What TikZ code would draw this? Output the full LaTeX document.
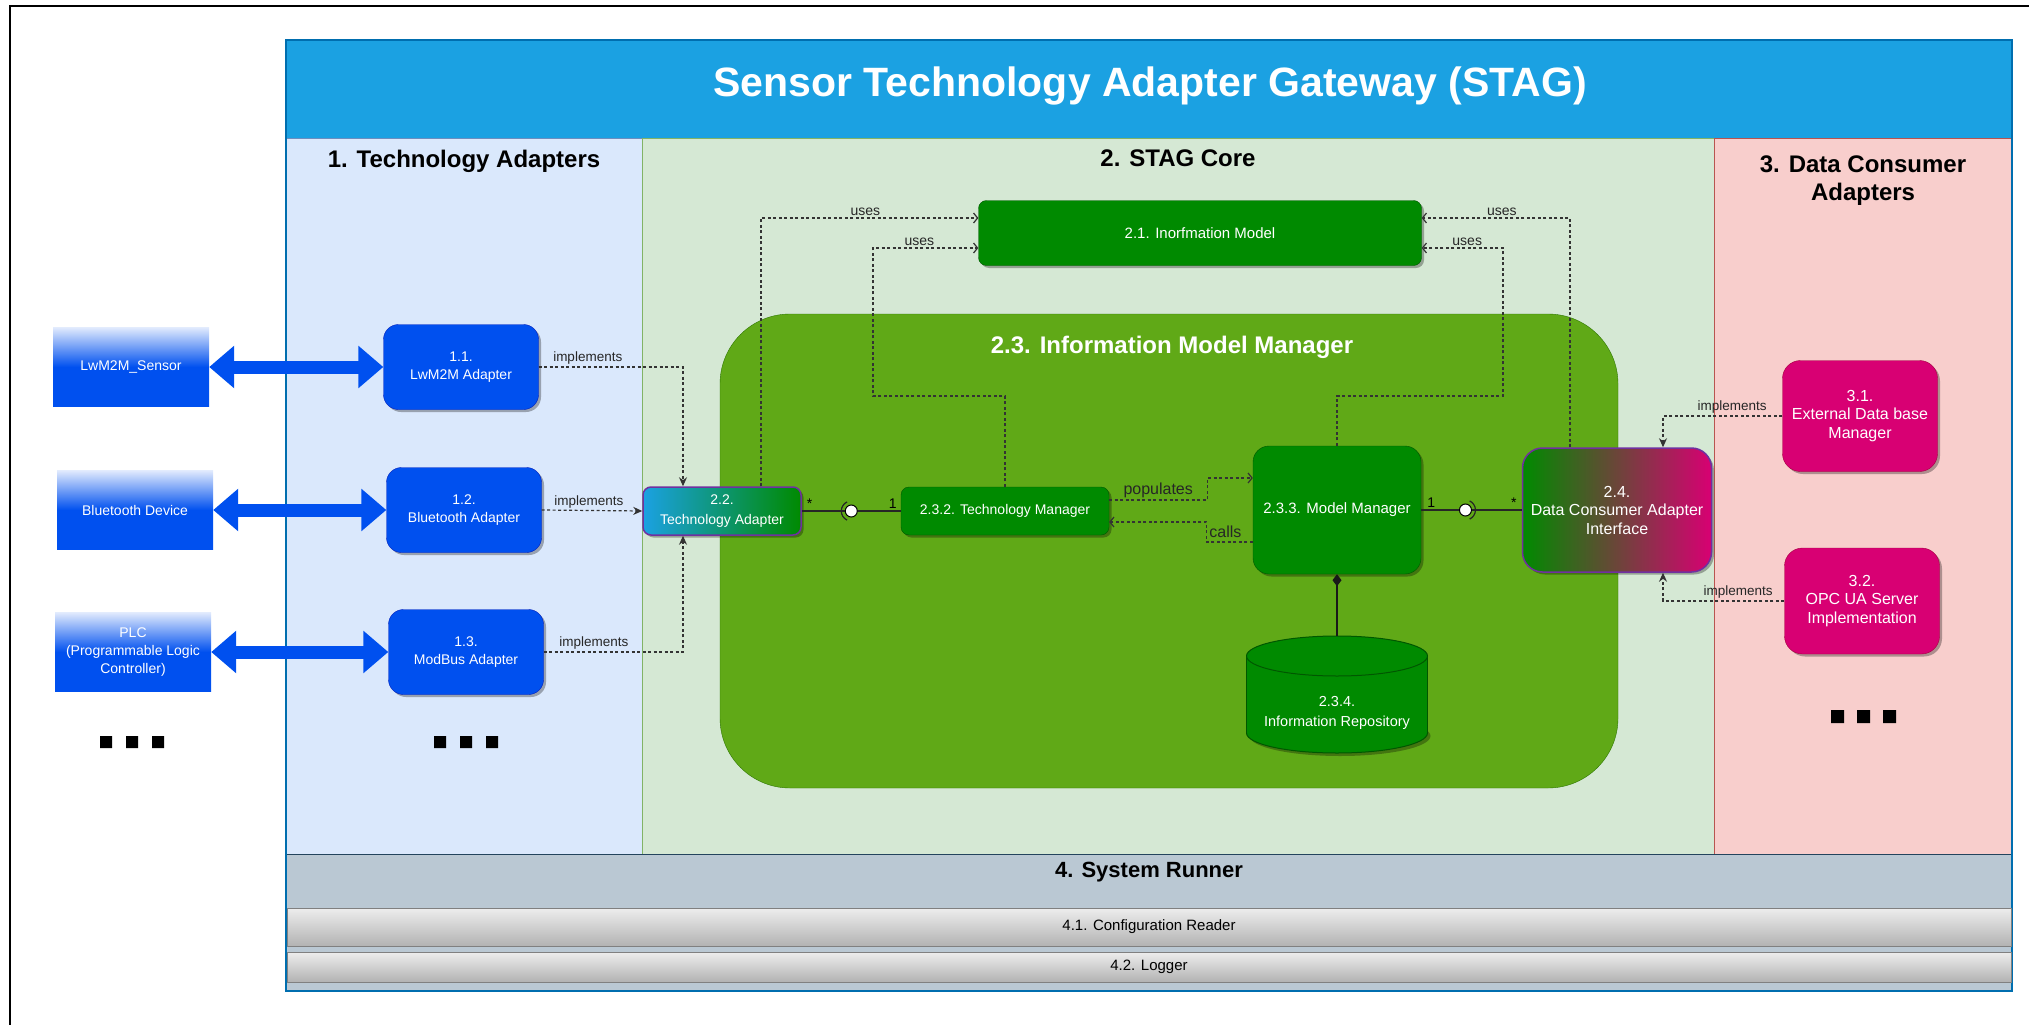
\documentclass[tikz,border=0pt]{standalone}
\usepackage{fontspec}
\setmainfont{Liberation Sans}
\usetikzlibrary{arrows.meta,shapes.geometric,shadows}

\definecolor{stagblue}{HTML}{1BA1E2}
\definecolor{stagline}{HTML}{006EAF}
\definecolor{taback}{HTML}{DAE8FC}
\definecolor{taline}{HTML}{6C8EBF}
\definecolor{coreback}{HTML}{D5E8D4}
\definecolor{coreline}{HTML}{82B366}
\definecolor{dcback}{HTML}{F8CECC}
\definecolor{dcline}{HTML}{B85450}
\definecolor{runback}{HTML}{BAC8D3}
\definecolor{runline}{HTML}{23445D}
\definecolor{adblue}{HTML}{0050EF}
\definecolor{adline}{HTML}{001DBC}
\definecolor{dkgreen}{HTML}{008A00}
\definecolor{dkgreenline}{HTML}{005700}
\definecolor{immgreen}{HTML}{60A917}
\definecolor{immline}{HTML}{2D7600}
\definecolor{dcmagenta}{HTML}{D80073}
\definecolor{dcmagentaline}{HTML}{A50040}
\definecolor{mixline}{HTML}{7030A0}

\begin{document}
\begin{tikzpicture}[x=1pt,y=-1pt,
    boxshadow/.style={drop shadow={shadow xshift=2.5pt,shadow yshift=-2.5pt,opacity=0.3,fill=black}},
    sect/.style={font=\fontsize{24}{28}\selectfont\bfseries, align=center, text=black},
    devbox/.style={top color=adblue!12!white, bottom color=adblue, middle color=adblue, text=white, align=center,
        minimum width=156pt, minimum height=79pt, font=\fontsize{14}{18}\selectfont},
    adbox/.style={draw=adline, fill=adblue, text=white, align=center, rounded corners=15pt,
        minimum width=155pt, minimum height=85pt, font=\fontsize{14}{18.5}\selectfont, boxshadow},
    greenbox/.style={draw=dkgreenline, fill=dkgreen, text=white, align=center, font=\fontsize{15}{18}\selectfont, boxshadow},
    magbox/.style={draw=dcmagentaline, fill=dcmagenta, text=white, align=center, rounded corners=18pt,
        minimum width=155pt, minimum height=111pt, font=\fontsize{16}{18.5}\selectfont, boxshadow},
    runbox/.style={draw=black!50, top color=black!7, bottom color=black!30, minimum width=1724pt,
        font=\fontsize{15}{18}\selectfont},
    blockarr/.style={draw=adblue, line width=13pt, {Triangle[length=25pt,width=41pt]}-{Triangle[length=25pt,width=41pt]}},
    impl/.style={draw=black!80, line width=1.2pt, dash pattern=on 3pt off 2.5pt, -{Stealth[length=9pt,width=8pt]}},
    usesarr/.style={draw=black!80, line width=1.2pt, dash pattern=on 3pt off 2.5pt, -{Straight Barb[length=4pt,width=10pt]}},
    lbl/.style={font=\fontsize{13.5}{16}\selectfont, text=black!85, inner sep=2pt},
    assoc/.style={draw=black!85, line width=1.5pt},
    mult/.style={font=\fontsize{14}{16}\selectfont, inner sep=2pt}]

\useasboundingbox (0,0) rectangle (2029,1025);

% frame and panels
\draw[line width=2pt] (10,1025) -- (10,6) -- (2029,6);
\fill[stagblue] (286,40) rectangle (2012,138);
\draw[taline, fill=taback] (286,138) rectangle (642,854);
\draw[coreline, fill=coreback] (642,138) rectangle (1714,854);
\draw[dcline, fill=dcback] (1714,138) rectangle (2012,854);
\draw[runline, fill=runback] (286,854) rectangle (2012,991);
\draw[immline, fill=immgreen, rounded corners=70pt] (720,314) rectangle (1618,788);
\draw[stagline, line width=2pt] (286,40) rectangle (2012,991);

\node[font=\fontsize{41}{48}\selectfont\bfseries, text=white] (stag) at (1150,86) {Sensor Technology Adapter Gateway (STAG)};
\node[sect] (h1) at (464,161) {1. Technology Adapters};
\node[sect] (h2) at (1178,158) {2. STAG Core};
\node[sect] (h3) at (1863,181) {3. Data Consumer\\Adapters};
\node[sect, text=white] (h23) at (1172,347) {2.3. Information Model Manager};
\node[sect, font=\fontsize{22}{26}\selectfont\bfseries] (h4) at (1149,872) {4. System Runner};

% devices and adapters
\node[devbox] (dev1) at (131,367) {LwM2M\_Sensor};
\node[devbox] (dev2) at (135,510) {Bluetooth Device};
\node[devbox] (dev3) at (133,652) {PLC\\(Programmable Logic\\Controller)};

\node[adbox] (ad1) at (461,367) {1.1.\\LwM2M Adapter};
\node[adbox] (ad2) at (464,510) {1.2.\\Bluetooth Adapter};
\node[adbox] (ad3) at (466,652) {1.3.\\ModBus Adapter};

\draw[blockarr] (dev1.east) -- (ad1.west);
\draw[blockarr] (dev2.east) -- (ad2.west);
\draw[blockarr] (dev3.east) -- (ad3.west);

\fill (100,736) rectangle ++(12,12) (126,736) rectangle ++(12,12) (152,736) rectangle ++(12,12);
\fill (434,736) rectangle ++(12,12) (460,736) rectangle ++(12,12) (486,736) rectangle ++(12,12);
\fill (1831,710) rectangle ++(13,13) (1857,710) rectangle ++(13,13) (1883,710) rectangle ++(13,13);

% core
\node[draw=mixline, line width=1.5pt, left color=stagblue, right color=dkgreen, text=white, align=center,
    rounded corners=8pt, minimum width=158pt, minimum height=48pt, font=\fontsize{14}{20}\selectfont, boxshadow] (ta) at (722,511) {2.2.\\Technology Adapter};
\node[greenbox, minimum width=443pt, minimum height=65pt, rounded corners=8pt] (im) at (1200,233) {2.1. Inorfmation Model};
\node[greenbox, minimum width=208pt, minimum height=48pt, rounded corners=8pt, font=\fontsize{14}{18}\selectfont] (tm) at (1005,511) {2.3.2. Technology Manager};
\node[greenbox, minimum width=168pt, minimum height=128pt, rounded corners=16pt] (mm) at (1337,510) {2.3.3. Model Manager};
\node[draw=mixline, line width=1.5pt, left color=dkgreen, right color=dcmagenta, text=white, align=center,
    rounded corners=20pt, minimum width=189pt, minimum height=124pt, font=\fontsize{16}{18.5}\selectfont, boxshadow] (dca) at (1617,510) {2.4.\\Data Consumer Adapter\\Interface};

% repository drum
\fill[black, opacity=0.3] (1340,736) ellipse (90.5 and 20);
\draw[dkgreenline, line width=1pt, fill=dkgreen] (1337,733) ellipse (90.5 and 20);
\fill[dkgreen] (1246.5,656) rectangle (1427.5,733);
\draw[dkgreenline, line width=1pt] (1246.5,656) -- (1246.5,733) (1427.5,656) -- (1427.5,733);
\draw[dkgreenline, line width=1pt, fill=dkgreen] (1337,656) ellipse (90.5 and 20);
\coordinate (repotop) at (1337,636);
\node[text=white, align=center, font=\fontsize{14.5}{20}\selectfont] (repo) at (1337,713) {2.3.4.\\Information Repository};

% data consumers
\node[magbox] (edb) at (1860,416) {3.1.\\External Data base\\Manager};
\node[magbox, minimum height=106pt] (opc) at (1862,601) {3.2.\\OPC UA Server\\Implementation};

% system runner
\node[runbox, minimum height=38pt] (cfg) at (1149,927) {4.1. Configuration Reader};
\node[runbox, minimum height=30pt] (log) at (1149,967) {4.2. Logger};

% implements
\draw[impl] (ad1.east) -| node[lbl, pos=0.17, above] (li1) {implements} ([xshift=-39pt]ta.north);
\draw[impl] (ad2.east) -- node[lbl, pos=0.47, above] (li2) {implements} (ta.west);
\draw[impl] (ad3.east) -| node[lbl, pos=0.18, above] (li3) {implements} ([xshift=-39pt]ta.south);
\draw[impl] (edb.west) -| node[lbl, pos=0.21, above] (li4) {implements} ([xshift=46pt]dca.north);
\draw[impl] (opc.west) -| node[lbl, pos=0.19, above] (li5) {implements} ([xshift=46pt]dca.south);

% uses
\coordinate (ulc) at (873,396);
\coordinate (urc) at (1503,396);
\draw[usesarr] ([xshift=39pt]ta.north) |- node[lbl, pos=0.74, above, font=\fontsize{14}{16}\selectfont] (lu1) {uses} ([yshift=15pt]im.west);
\draw[usesarr] (tm.north) |- (ulc) |- node[lbl, pos=0.72, above, font=\fontsize{14}{16}\selectfont] (lu2) {uses} ([yshift=-15pt]im.west);
\draw[usesarr] (mm.north) |- (urc) |- node[lbl, pos=0.72, above, font=\fontsize{14}{16}\selectfont] (lu3) {uses} ([yshift=-15pt]im.east);
\draw[usesarr] ([xshift=-47pt]dca.north) |- node[lbl, pos=0.73, above, font=\fontsize{14}{16}\selectfont] (lu4) {uses} ([yshift=15pt]im.east);

\draw[usesarr] ([yshift=11pt]tm.east) -- node[lbl, above, font=\fontsize{16}{18}\selectfont] (lpop) {populates} ++(98,0) |- ([yshift=32pt]mm.west);
\draw[usesarr] ([yshift=-32pt]mm.west) -- ++(-46,0) |- node[lbl, pos=0.25, right, font=\fontsize{16}{18}\selectfont] (lcall) {calls} ([yshift=-11pt]tm.east);

% interfaces
\draw[assoc] (ta.east) -- node[mult, pos=0.08, above] (m1) {*} node[mult, pos=0.92, above] (m2) {1} coordinate[pos=0.5] (bl1) (tm.west);
\draw[assoc, line width=1.2pt] ([xshift=-10pt]bl1) arc (180:245:10pt) ([xshift=-10pt]bl1) arc (180:115:10pt);
\draw[line width=1pt, fill=white] (bl1) circle (6pt);

\draw[assoc] (mm.east) -- node[mult, pos=0.1, above] (m3) {1} node[mult, pos=0.92, above] (m4) {*} coordinate[pos=0.44] (bl2) (dca.west);
\draw[assoc, line width=1.2pt] ([xshift=10pt]bl2) arc (0:65:10pt) ([xshift=10pt]bl2) arc (0:-65:10pt);
\draw[line width=1pt, fill=white] (bl2) circle (6pt);

\draw[black!90, line width=1.2pt, {Diamond[length=12pt,width=9pt]}-] (mm.south) -- (repotop);

\end{tikzpicture}
\end{document}
